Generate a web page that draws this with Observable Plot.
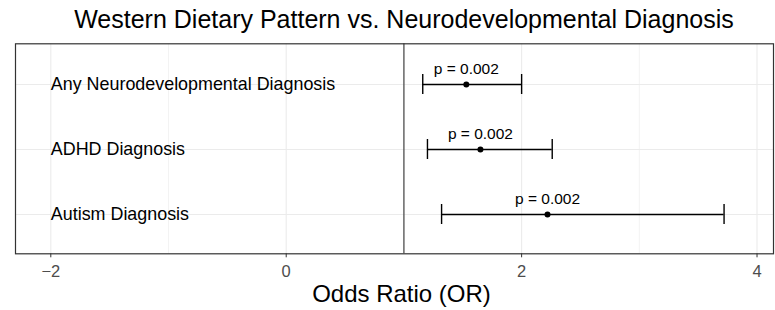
<!DOCTYPE html>
<html>
<head>
<meta charset="utf-8">
<script src="https://cdn.jsdelivr.net/npm/d3@7"></script>
<script src="https://cdn.jsdelivr.net/npm/@observablehq/plot@0.6"></script>
<style>
  html, body { margin: 0; padding: 0; background: #fff; }
  #title { height: 38px; line-height: 39px; font-family: "Liberation Sans", Arial, Helvetica, sans-serif; font-size: 25px; color: #000; text-align: center; padding-left: 33px; box-sizing: border-box; width: 775px; white-space: nowrap; }
  svg { display: block; }
</style>
</head>
<body>
<div id="title">Western Dietary Pattern vs. Neurodevelopmental Diagnosis</div>
<div id="chart"></div>
<script>
const categories = ["Any Neurodevelopmental Diagnosis", "ADHD Diagnosis", "Autism Diagnosis"];
const oddsRatio = [1.53, 1.65, 2.22];
const ciLow = [1.16, 1.20, 1.32];
const ciHigh = [2.00, 2.26, 3.72];
const pLabels = ["p = 0.002", "p = 0.002", "p = 0.002"];
const xTicks = [-2, 0, 2, 4];
const xMinorTicks = [-1, 1, 3];
const xDomain = [-2.3, 4.14];
const nullOR = 1;
const xTitle = "Odds Ratio (OR)";

const rows = categories.map((c, i) => ({
  cat: c, or: oddsRatio[i], lo: ciLow[i], hi: ciHigh[i], p: pLabels[i]
}));

const fmt = d => d < 0 ? "\u2212" + Math.abs(d) : String(d);

const chart = Plot.plot({
  width: 775,
  height: 272,
  marginLeft: 15,
  marginRight: 2,
  marginTop: 5.3,
  marginBottom: 56.7,
  style: { fontFamily: "'Liberation Sans', Arial, Helvetica, sans-serif", background: "#fff", overflow: "visible" },
  x: { domain: xDomain, axis: null },
  y: { type: "band", domain: categories, paddingInner: 0.7, paddingOuter: 0.45, axis: null },
  marks: [
    Plot.ruleX(xMinorTicks, { stroke: "#EBEBEB", strokeWidth: 0.6 }),
    Plot.ruleX(xTicks, { stroke: "#EBEBEB", strokeWidth: 1.1 }),
    Plot.gridY(categories, { stroke: "#EBEBEB", strokeOpacity: 1, strokeWidth: 1.1 }),
    Plot.ruleX([nullOR], { stroke: "#333333", strokeWidth: 1.1 }),
    Plot.ruleY(rows, { y: "cat", x1: "lo", x2: "hi", stroke: "#000", strokeWidth: 1.4 }),
    Plot.tickX(rows, { x: "lo", y: "cat", stroke: "#000", strokeWidth: 1.4 }),
    Plot.tickX(rows, { x: "hi", y: "cat", stroke: "#000", strokeWidth: 1.4 }),
    Plot.dot(rows, { x: "or", y: "cat", r: 3, fill: "#000", stroke: null }),
    Plot.text(rows, { x: "or", y: "cat", text: "p", lineAnchor: "bottom", dy: -10.5, fontSize: 15.5, fill: "#000" }),
    Plot.text(rows, { x: () => xTicks[0], y: "cat", text: "cat", textAnchor: "start", lineAnchor: "middle", fontSize: 17.9, fill: "#000" }),
    Plot.frame({ stroke: "#333333", strokeWidth: 1.2 }),
    Plot.axisX(xTicks, { tickSize: 4, tickPadding: 7, fontSize: 16.5, stroke: "#333333", fill: "#4D4D4D", tickFormat: fmt, label: null }),
    Plot.text([xTitle], { frameAnchor: "bottom", lineAnchor: "bottom", dy: 48.4, dx: 7, fontSize: 24, fill: "#000" })
  ]
});
document.getElementById("chart").appendChild(chart);
</script>
</body>
</html>
